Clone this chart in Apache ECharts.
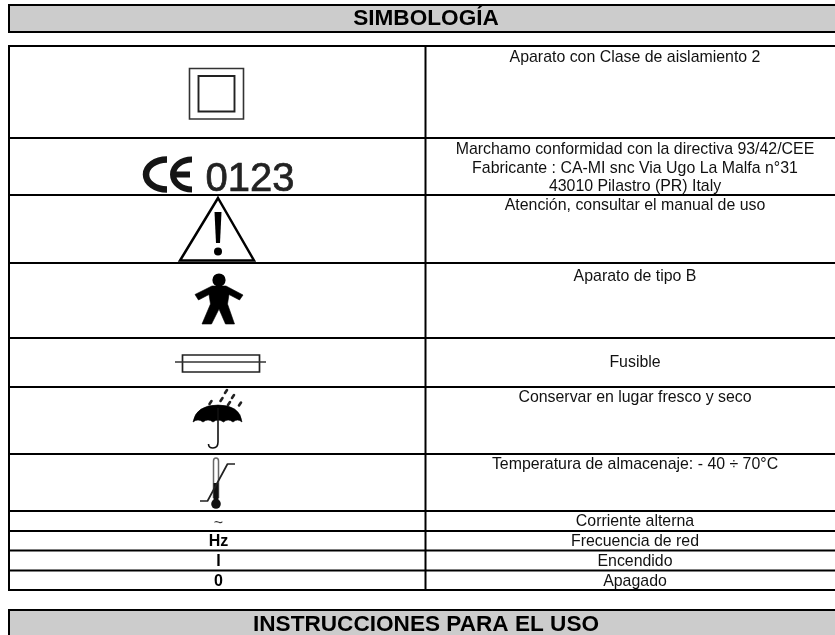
<!DOCTYPE html>
<html><head><meta charset="utf-8">
<style>html,body{margin:0;padding:0;background:#fff}#c{width:835px;height:635px}</style>
<script src="https://cdn.jsdelivr.net/npm/echarts@6/dist/echarts.min.js"></script>
</head><body><div id="c"></div>
<script>
const headings = ['SIMBOLOGÍA', 'INSTRUCCIONES PARA EL USO'];
const symbolLabels = ['~', 'Hz', 'I', '0'];
const descriptions = [
  ['Aparato con Clase de aislamiento 2'],
  ['Marchamo conformidad con la directiva 93/42/CEE', 'Fabricante : CA-MI snc Via Ugo La Malfa n°31', '43010 Pilastro (PR) Italy'],
  ['Atención, consultar el manual de uso'],
  ['Aparato de tipo B'],
  ['Fusible'],
  ['Conservar en lugar fresco y seco'],
  ['Temperatura de almacenaje: - 40 ÷ 70°C'],
  ['Corriente alterna'],
  ['Frecuencia de red'],
  ['Encendido'],
  ['Apagado']
];
const markText = '0123';

// ---- layout ----
const FONT = '"Liberation Sans", Arial, sans-serif';
const L = 8, R = 844, DIV = 424.5, LC = 218.5, RC = 635;
const rowLines = [45,137,194,262,337,386,453,510,530,549.5,569.5,589];
const rowTextY = [[58],[150,168.5,187],[206],[277],[363],[398],[465],[522],[541.5],[561.5],[582]];
const labelY = [523.5,541.5,561.5,582];
const el = [];
let pathCount = 0;
const band = (x,y,w,h,fill) => el.push({type:'rect',silent:true,shape:{x,y,width:w,height:h},style:{fill}});
const txt = (x,y,text,size,bold,fill,extra) => el.push({type:'text',silent:true,x,y,style:Object.assign({text,x:0,y:0,fill:fill||'#000',textAlign:'center',textVerticalAlign:'middle',font:(bold?'bold ':'')+size+'px '+FONT},extra)});
const path = (d,style) => {
  const name = 'iconPath' + (pathCount++);
  echarts.graphic.registerShape(name, echarts.graphic.extendPath(d,{}));
  el.push({type:name,silent:true,style:Object.assign({fill:null,stroke:'#000',lineWidth:1.5,lineJoin:'round'},style)});
};
const dot = (cx,cy,r,fill) => el.push({type:'circle',silent:true,shape:{cx,cy,r},style:{fill:fill||'#000'}});

// headers
function header(top,bottom,text,cy){
  band(L,top,R-L,bottom-top,'#cccccc');
  band(L,top,R-L,2,'#000');
  if(bottom<635) band(L,bottom-2,R-L,2,'#000');
  band(L,top,2,bottom-top,'#000');
  txt((L+R)/2,cy,text,22.6,true);
}
header(4,33,headings[0],18.5);
header(609,640,headings[1],624.5);

// table grid
rowLines.forEach(y=>band(L,y,R-L,2,'#000'));
band(L,45,2,546,'#000');
band(DIV,45,2,546,'#000');

// texts
descriptions.forEach((lines,i)=>lines.forEach((t,j)=>txt(RC,rowTextY[i][j],t,15.9,false,'#111')));
symbolLabels.forEach((t,i)=>txt(LC,labelY[i],t,16,i>0,i===0?'#333':'#000'));

// double square
path('M189.5 68.5H243.5V119H189.5Z',{stroke:'#333',lineWidth:1.6,lineJoin:'miter'});
path('M198.5 76H234.5V111.5H198.5Z',{stroke:'#222',lineWidth:1.9,lineJoin:'miter'});

// CE 0123
path('M167 159.5A21 15 0 0 0 167 189.5',{stroke:'#151515',lineWidth:6.5,lineJoin:'miter'});
path('M192 159.5A19 15 0 0 0 192 189.5M175 174.5H190',{stroke:'#151515',lineWidth:6});
txt(250,179.5,markText,40,false,'#222',{stroke:'#222',lineWidth:.7});

// warning triangle
path('M218 198L254 260.5H180Z',{lineWidth:2.5,lineJoin:'miter'});
path('M214.5 212H221.5L220 243H216Z',{fill:'#000',stroke:null});
dot(218,251.5,4);

// person
dot(219,280,6.6);
path('M212 286H226L243 295L239.5 300L229 294.5L227.5 304L234.5 324H225.5L219 309L211.5 324H202L210.5 304L209 294.5L198.5 300L195 294.5Z',{fill:'#000',stroke:'#000',lineWidth:.6});

// fuse
path('M182.5 355H259.5V372H182.5Z',{stroke:'#222',lineWidth:1.7,lineJoin:'miter'});
path('M175 362H266',{stroke:'#333',lineWidth:1.4});

// umbrella
path('M193 422Q196 405 218 405Q240 405 242 422Q237.5 418 233 422Q228 418 223.5 422Q218 418 213 422Q208 418 203 422Q198 418 193 422Z',{fill:'#000',stroke:'#000',lineWidth:.6});
path('M218 408V442Q218 448 213 448Q208.5 448 208.5 444',{stroke:'#111',lineWidth:1.6});
[[210.5,403],[229,404],[240,404.5],[221.5,400],[233,397],[226,392]].forEach(p=>
  path(`M${p[0]+1} ${p[1]-2}L${p[0]-1} ${p[1]+1}`,{stroke:'#222',lineWidth:2.6,lineCap:'round'}));

// thermometer
path('M213.5 498V461Q213.5 458 216 458Q218.5 458 218.5 461V498',{stroke:'#666',lineWidth:1.5});
path('M216 483V502',{stroke:'#111',lineWidth:5,lineJoin:'miter'});
dot(216,504,4.8,'#111');
path('M200 501H207.5L227.5 464H235',{stroke:'#222',lineWidth:1.7});

const chart = echarts.init(document.getElementById('c'),null,{renderer:'canvas'});
chart.setOption({animation:false,backgroundColor:'#fff',graphic:{elements:el}});
</script></body></html>
